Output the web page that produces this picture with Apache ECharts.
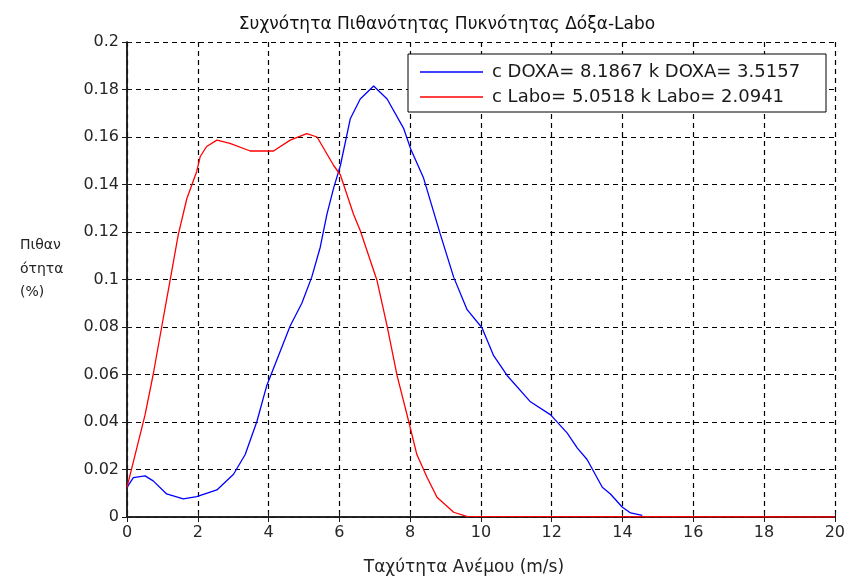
<!DOCTYPE html>
<html>
<head>
<meta charset="utf-8">
<script src="https://cdn.jsdelivr.net/npm/echarts@6/dist/echarts.min.js"></script>
<style>
  html, body { margin: 0; padding: 0; background: #fff; }
  #chart { width: 848px; height: 581px; }
</style>
</head>
<body>
<div id="chart"></div>
<script>
// Wind speed (m/s) and probability density for the DOXA station
var doxaSpeed = [0, 0.18, 0.51, 0.74, 1.12, 1.59, 1.97, 2.54, 3.01, 3.34,
  3.67, 3.95, 4.28, 4.61, 4.94, 5.22, 5.46, 5.65, 5.84, 6.03,
  6.31, 6.59, 6.97, 7.35, 7.82, 8.01, 8.38, 8.85, 9.23, 9.61,
  10.03, 10.36, 10.74, 11.4, 11.97, 12.44, 12.72, 13.0, 13.43, 13.66,
  13.99, 14.23, 14.56];
var doxaProb = [0.0125, 0.0166, 0.0173, 0.0152, 0.0097, 0.0076, 0.0086, 0.0114, 0.018, 0.0263,
  0.0402, 0.0554, 0.0679, 0.0804, 0.090, 0.101, 0.1136, 0.1275, 0.1386, 0.148,
  0.1677, 0.176, 0.1815, 0.176, 0.1635, 0.1552, 0.1427, 0.1192, 0.101, 0.0873,
  0.0797, 0.0679, 0.0596, 0.0485, 0.043, 0.0353, 0.0291, 0.0242, 0.0125, 0.0097,
  0.0042, 0.0017, 0.0007];

// Wind speed (m/s) and probability density for the Labo station
var laboSpeed = [0, 0.51, 0.74, 0.98, 1.22, 1.45, 1.69, 1.97, 2.07, 2.25,
  2.54, 2.91, 3.48, 4.14, 4.61, 5.08, 5.37, 5.84, 6.03, 6.40,
  6.59, 7.06, 7.35, 7.63, 7.96, 8.19, 8.48, 8.76, 9.23, 9.6, 20];
var laboProb = [0.0125, 0.043, 0.060, 0.080, 0.0998, 0.119, 0.134, 0.1455, 0.1518, 0.156,
  0.1587, 0.1573, 0.1541, 0.1541, 0.1587, 0.1614, 0.160, 0.148, 0.144, 0.1275,
  0.1206, 0.0998, 0.0804, 0.0596, 0.0402, 0.0263, 0.0166, 0.0083, 0.002, 0.0003, 0];

var seriesNames = ['c DOXA= 8.1867 k DOXA= 3.5157', 'c Labo= 5.0518 k Labo= 2.0941'];

// Axis ticks
var xTicks = [0, 2, 4, 6, 8, 10, 12, 14, 16, 18, 20];
var yTicks = [0, 0.02, 0.04, 0.06, 0.08, 0.1, 0.12, 0.14, 0.16, 0.18, 0.2];

function pairs(xs, ys) {
  return xs.map(function (x, i) { return [x, ys[i]]; });
}

var labelFont = '"DejaVu Sans", "Liberation Sans", sans-serif';
var frame = { show: true, lineStyle: { color: '#1a1a1a', width: 1.5 } };
var inTicks = { show: true, inside: true, length: 5, lineStyle: { color: '#1a1a1a', width: 1 } };
var dashGrid = { show: true, lineStyle: { color: '#000', width: 1.2, type: [5, 4] } };

var xRange = { min: xTicks[0], max: xTicks[xTicks.length - 1], interval: xTicks[1] - xTicks[0] };
var yRange = { min: yTicks[0], max: yTicks[yTicks.length - 1], interval: yTicks[1] - yTicks[0] };

var chart = echarts.init(document.getElementById('chart'), null, { renderer: 'canvas' });
chart.setOption({
  backgroundColor: '#fff',
  animation: false,
  title: [{
    text: 'Συχνότητα Πιθανότητας Πυκνότητας Δόξα-Labo',
    left: 442, top: 11, textAlign: 'center',
    textStyle: { fontFamily: labelFont, fontSize: 17, fontWeight: 'normal', color: '#111' }
  }, {
    text: 'Πιθαν\nότητα\n(%)',
    left: 15, top: 229,
    textStyle: { fontFamily: labelFont, fontSize: 14, fontWeight: 'normal', color: '#222', lineHeight: 23.5 }
  }],
  legend: {
    orient: 'vertical',
    left: 408, top: 54,
    padding: [8, 13, 5, 12],
    itemGap: 5,
    itemWidth: 63, itemHeight: 1.5,
    icon: 'rect',
    backgroundColor: '#fff',
    borderColor: '#000', borderWidth: 1, borderRadius: 0,
    data: seriesNames,
    textStyle: {
      fontFamily: labelFont, fontSize: 18, color: '#1a1a1a',
      lineHeight: 20, width: 321, overflow: 'none', padding: [0, 0, 0, 4]
    }
  },
  grid: { left: 127, right: 13, top: 42, bottom: 58, containLabel: false },
  xAxis: [{
    type: 'value', position: 'bottom',
    min: xRange.min, max: xRange.max, interval: xRange.interval,
    name: 'Ταχύτητα Ανέμου (m/s)', nameLocation: 'middle', nameGap: 42,
    nameTextStyle: { fontFamily: labelFont, fontSize: 17, color: '#222', padding: [0, 34, 0, 0] },
    axisLine: frame, axisTick: inTicks, splitLine: dashGrid,
    axisLabel: { fontFamily: labelFont, fontSize: 16, color: '#262626', margin: 8 }
  }, {
    type: 'value', position: 'top',
    min: xRange.min, max: xRange.max, interval: xRange.interval,
    axisLine: frame, axisTick: inTicks, splitLine: { show: false },
    axisLabel: { show: false }
  }],
  yAxis: [{
    type: 'value', position: 'left',
    min: yRange.min, max: yRange.max, interval: yRange.interval,
    axisLine: frame, axisTick: inTicks, splitLine: dashGrid,
    axisLabel: {
      fontFamily: labelFont, fontSize: 16, color: '#262626', margin: 8,
      formatter: function (v) { return String(+v.toFixed(2)); }
    }
  }, {
    type: 'value', position: 'right',
    min: yRange.min, max: yRange.max, interval: yRange.interval,
    axisLine: frame, axisTick: inTicks, splitLine: { show: false },
    axisLabel: { show: false }
  }],
  series: [{
    name: seriesNames[0], type: 'line', symbol: 'none', smooth: false,
    xAxisIndex: 0, yAxisIndex: 0,
    lineStyle: { color: '#0000ff', width: 1.3 }, itemStyle: { color: '#0000ff' },
    data: pairs(doxaSpeed, doxaProb), z: 3
  }, {
    name: seriesNames[1], type: 'line', symbol: 'none', smooth: false,
    xAxisIndex: 0, yAxisIndex: 0,
    lineStyle: { color: '#ff0000', width: 1.3 }, itemStyle: { color: '#ff0000' },
    data: pairs(laboSpeed, laboProb), z: 4
  }]
});
</script>
</body>
</html>
